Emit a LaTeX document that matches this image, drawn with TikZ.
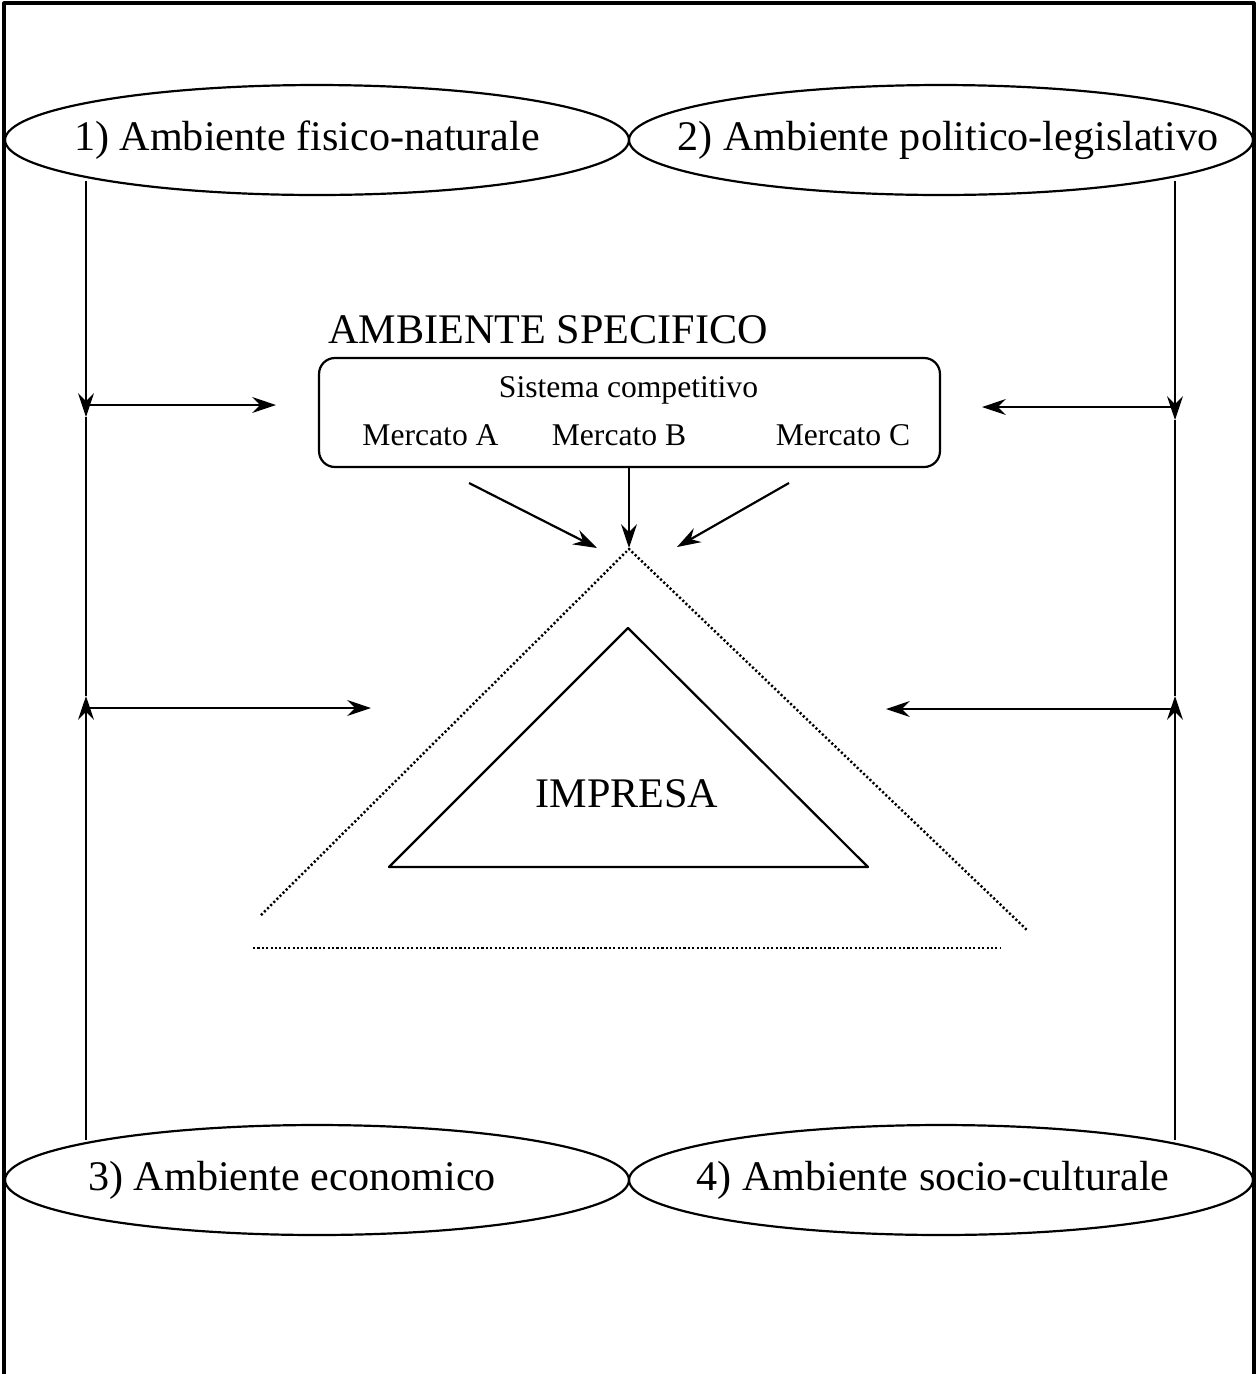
\documentclass[tikz,border=0pt]{standalone}
\usepackage{fontspec}
\setmainfont{Liberation Serif}
\usetikzlibrary{shapes.geometric,arrows.meta}
\newcommand\ambtext[2][0pt]{\makebox[0pt]{\hspace*{#1}#2}}
\tikzset{
  amb/.style={draw,ellipse,minimum width=12.48cm,minimum height=2.2cm,inner sep=0pt},
  dots/.style={line width=1.4pt,dash pattern=on 1.2pt off 1.3pt},
  small/.style={font=\fontsize{18}{21}\selectfont,anchor=base}
}
\begin{document}
\begin{tikzpicture}[x=0.02cm,y=-0.02cm,>={Stealth[length=13.5pt,width=9pt,inset=4.5pt]},line join=round,line width=1.25pt,font=\fontsize{24}{28}\selectfont]
    \useasboundingbox (0,0) rectangle (1257,1374);
    \draw[line width=1.8pt] (4,1374)--(4,3)--(1254,3)--(1254,1374);
    % ambiente generale
    \node[amb] (E1) at (317,140) {\ambtext[-0.4cm]{1) Ambiente fisico-naturale}};
    \node[amb] (E2) at (941,140) {\ambtext[0.28cm]{2) Ambiente politico-legislativo}};
    \node[amb] (E3) at (317,1180) {\ambtext[-1cm]{3) Ambiente economico}};
    \node[amb] (E4) at (941,1180) {\ambtext[-0.32cm]{4) Ambiente socio-culturale}};
    % ambiente specifico
    \node[anchor=base] (AS) at (548,343) {AMBIENTE SPECIFICO};
    \node[draw,rounded corners=9pt,minimum width=12.42cm,minimum height=2.18cm] (SC) at (629.5,412.5) {};
    \path (628.5,397)node[small] (S){Sistema competitivo}
    (430.5,445)node[small] (MA){Mercato A}
    (619,445)node[small] (MB){Mercato B}
    (843,445)node[small] (MC){Mercato C};
    % impresa
    \draw (628,628)--(868,867)--(389,867)--cycle;
    \node[anchor=base] (I) at (627,807) {IMPRESA};
    \draw[dots] (261,915)--(629,549)--(1028,931);
    \draw[dots] (253,948)--(1001,948);
    \path
    (86,181)coordinate (L0) (86,417)coordinate (L1) (86,696)coordinate (L2) (86,1140)coordinate (L3)
    (1175,181)coordinate (R0) (1175,420)coordinate (R1) (1175,696)coordinate (R2) (1175,1140)coordinate (R3)
    (86,405)coordinate (La) (276,405)coordinate (Lb) (86,708)coordinate (Lc) (371,708)coordinate (Ld)
    (1175,407)coordinate (Ra) (982,407)coordinate (Rb) (1175,709)coordinate (Rc) (886,709)coordinate (Rd)
    (629,548)coordinate (T) (469,483)coordinate (A) (597,548)coordinate (B) (789,483)coordinate (C) (677,547)coordinate (D)
    ;
    \draw[->](L0)--(L1);
    \draw(L1)--(L2);
    \draw[->](L3)--(L2);
    \draw[->](R0)--(R1);
    \draw(R1)--(R2);
    \draw[->](R3)--(R2);
    \draw[->](La)--(Lb);
    \draw[->](Lc)--(Ld);
    \draw[->](Ra)--(Rb);
    \draw[->](Rc)--(Rd);
    \draw[->](A)--(B);
    \draw[->](SC.south-|T)--(T);
    \draw[->](C)--(D);
\end{tikzpicture}
\end{document}
